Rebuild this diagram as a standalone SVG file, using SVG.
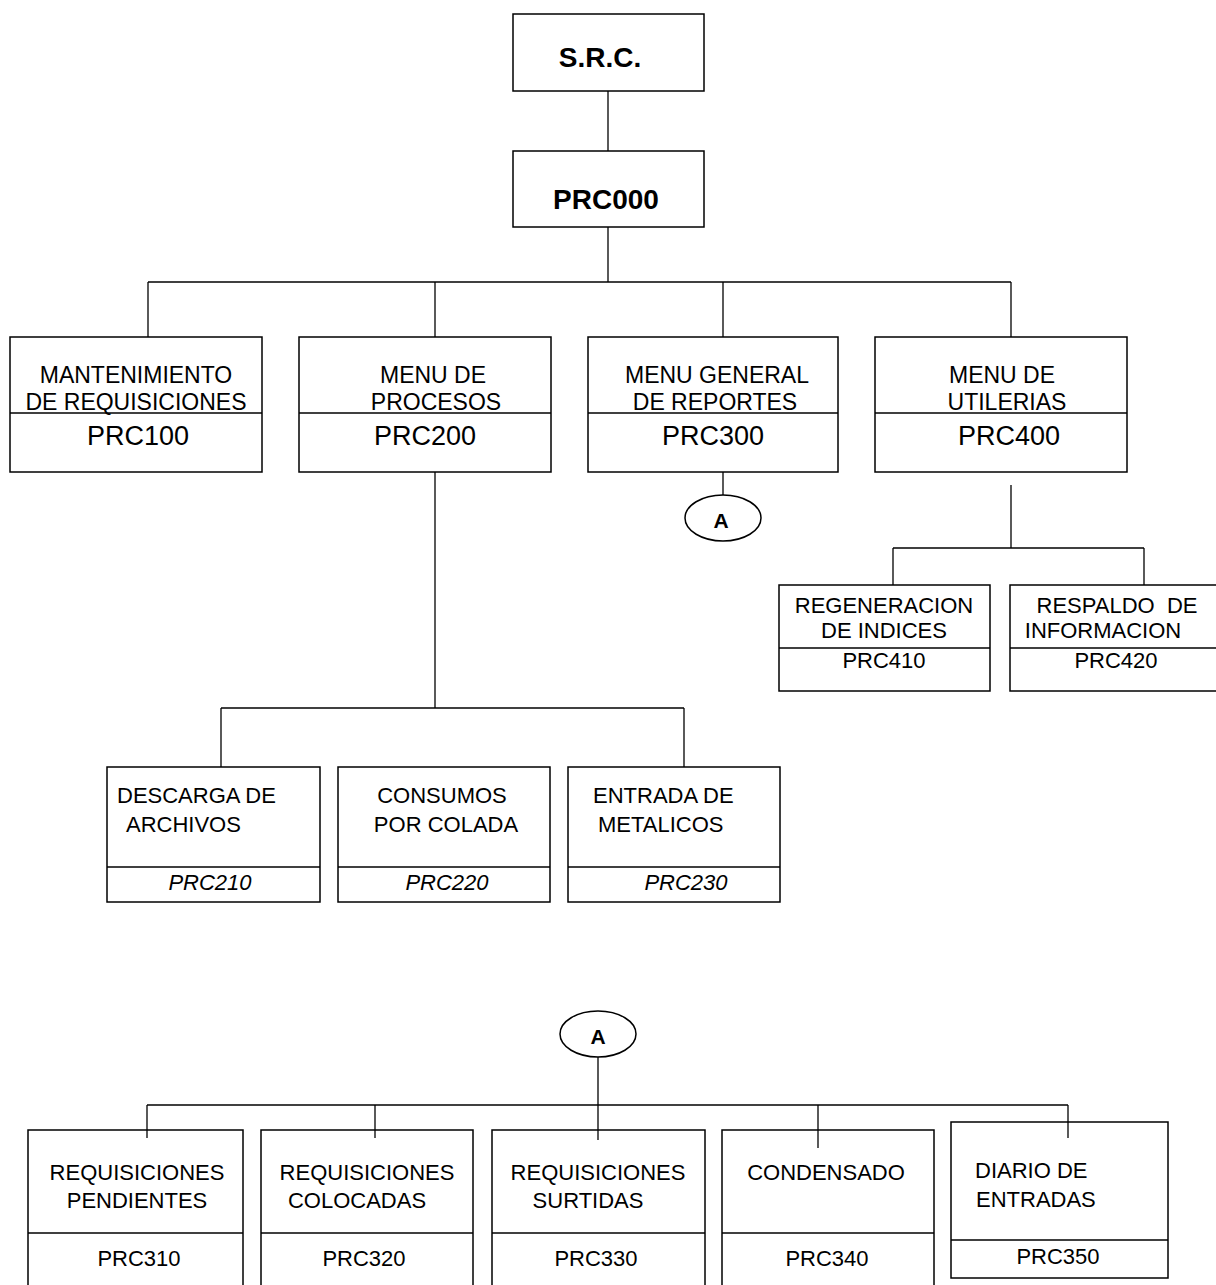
<svg xmlns="http://www.w3.org/2000/svg" width="1216" height="1285" viewBox="0 0 1216 1285">
<style>
.box{fill:#fff;stroke:#000;stroke-width:1.5}
.div{stroke:#000;stroke-width:1.3}
.conn line{stroke:#000;stroke-width:1.3}
text{font-family:"Liberation Sans",Arial,sans-serif;fill:#000;text-anchor:middle}
.big{font-size:28px;font-weight:bold}
.l2{font-size:23px}
.c2{font-size:27px}
.s{font-size:22px}
.it{font-style:italic}
.lt{text-anchor:start}
</style>
<rect width="1216" height="1285" fill="#fff"/>
<g id="src"><rect class="box" x="513" y="14" width="191" height="77"/><text class="big" x="600" y="67">S.R.C.</text></g>
<g id="prc000"><rect class="box" x="513" y="151" width="191" height="76"/><text class="big" x="606" y="209">PRC000</text></g>
<g id="prc100"><rect class="box" x="10" y="337" width="252" height="135"/><line class="div" x1="10" y1="413" x2="262" y2="413"/>
<text class="l2" x="136" y="383">MANTENIMIENTO</text><text class="l2" x="136" y="410">DE REQUISICIONES</text><text class="c2" x="138" y="445">PRC100</text></g>
<g id="prc200"><rect class="box" x="299" y="337" width="252" height="135"/><line class="div" x1="299" y1="413" x2="551" y2="413"/>
<text class="l2" x="433" y="383">MENU DE</text><text class="l2" x="436" y="410">PROCESOS</text><text class="c2" x="425" y="445">PRC200</text></g>
<g id="prc300"><rect class="box" x="588" y="337" width="250" height="135"/><line class="div" x1="588" y1="413" x2="838" y2="413"/>
<text class="l2" x="717" y="383">MENU GENERAL</text><text class="l2" x="715" y="410">DE REPORTES</text><text class="c2" x="713" y="445">PRC300</text></g>
<g id="prc400"><rect class="box" x="875" y="337" width="252" height="135"/><line class="div" x1="875" y1="413" x2="1127" y2="413"/>
<text class="l2" x="1002" y="383">MENU DE</text><text class="l2" x="1007" y="410">UTILERIAS</text><text class="c2" x="1009" y="445">PRC400</text></g>
<g id="connA1"><ellipse class="box" cx="723" cy="518" rx="38" ry="23"/><text x="721" y="528" style="font-size:21px;font-weight:bold">A</text></g>
<g id="prc410"><rect class="box" x="779" y="585" width="211" height="106"/><line class="div" x1="779" y1="648" x2="990" y2="648"/>
<text class="s" x="884" y="613">REGENERACION</text><text class="s" x="884" y="638">DE INDICES</text><text class="s" x="884" y="668">PRC410</text></g>
<g id="prc420"><rect class="box" x="1010" y="585" width="210" height="106"/><line class="div" x1="1010" y1="648" x2="1216" y2="648"/>
<text class="s" x="1117" y="613" xml:space="preserve">RESPALDO  DE</text><text class="s" x="1103" y="638">INFORMACION</text><text class="s" x="1116" y="668">PRC420</text></g>
<g id="prc210"><rect class="box" x="107" y="767" width="213" height="135"/><line class="div" x1="107" y1="867" x2="320" y2="867"/>
<text class="s lt" x="117" y="803">DESCARGA DE</text><text class="s lt" x="126" y="832">ARCHIVOS</text><text class="s it" x="210" y="890">PRC210</text></g>
<g id="prc220"><rect class="box" x="338" y="767" width="212" height="135"/><line class="div" x1="338" y1="867" x2="550" y2="867"/>
<text class="s" x="442" y="803">CONSUMOS</text><text class="s" x="446" y="832">POR COLADA</text><text class="s it" x="447" y="890">PRC220</text></g>
<g id="prc230"><rect class="box" x="568" y="767" width="212" height="135"/><line class="div" x1="568" y1="867" x2="780" y2="867"/>
<text class="s lt" x="593" y="803">ENTRADA DE</text><text class="s lt" x="598" y="832">METALICOS</text><text class="s it" x="686" y="890">PRC230</text></g>
<g id="connA2"><ellipse class="box" cx="598" cy="1034" rx="38" ry="23"/><text x="598" y="1044" style="font-size:21px;font-weight:bold">A</text></g>
<g id="prc310"><rect class="box" x="28" y="1130" width="215" height="160"/><line class="div" x1="28" y1="1233" x2="243" y2="1233"/>
<text class="s" x="137" y="1180">REQUISICIONES</text><text class="s" x="137" y="1208">PENDIENTES</text><text class="s" x="139" y="1266">PRC310</text></g>
<g id="prc320"><rect class="box" x="261" y="1130" width="212" height="160"/><line class="div" x1="261" y1="1233" x2="473" y2="1233"/>
<text class="s" x="367" y="1180">REQUISICIONES</text><text class="s" x="357" y="1208">COLOCADAS</text><text class="s" x="364" y="1266">PRC320</text></g>
<g id="prc330"><rect class="box" x="492" y="1130" width="213" height="160"/><line class="div" x1="492" y1="1233" x2="705" y2="1233"/>
<text class="s" x="598" y="1180">REQUISICIONES</text><text class="s" x="588" y="1208">SURTIDAS</text><text class="s" x="596" y="1266">PRC330</text></g>
<g id="prc340"><rect class="box" x="722" y="1130" width="212" height="160"/><line class="div" x1="722" y1="1233" x2="934" y2="1233"/>
<text class="s" x="826" y="1180">CONDENSADO</text><text class="s" x="827" y="1266">PRC340</text></g>
<g id="prc350"><rect class="box" x="951" y="1122" width="217" height="156"/><line class="div" x1="951" y1="1240" x2="1168" y2="1240"/>
<text class="s lt" x="975" y="1178">DIARIO DE</text><text class="s lt" x="976" y="1207">ENTRADAS</text><text class="s" x="1058" y="1264">PRC350</text></g>
<g id="connectors" class="conn">
<line x1="608" y1="91" x2="608" y2="151"/>
<line x1="608" y1="227" x2="608" y2="282"/>
<line x1="148" y1="282" x2="1011" y2="282"/>
<line x1="148" y1="282" x2="148" y2="337"/>
<line x1="435" y1="282" x2="435" y2="337"/>
<line x1="723" y1="282" x2="723" y2="337"/>
<line x1="1011" y1="282" x2="1011" y2="337"/>
<line x1="723" y1="472" x2="723" y2="495"/>
<line x1="1011" y1="485" x2="1011" y2="548"/>
<line x1="893" y1="548" x2="1144" y2="548"/>
<line x1="893" y1="548" x2="893" y2="585"/>
<line x1="1144" y1="548" x2="1144" y2="585"/>
<line x1="435" y1="472" x2="435" y2="708"/>
<line x1="221" y1="708" x2="684" y2="708"/>
<line x1="221" y1="708" x2="221" y2="767"/>
<line x1="684" y1="708" x2="684" y2="767"/>
<line x1="598" y1="1057" x2="598" y2="1140"/>
<line x1="147" y1="1105" x2="1068" y2="1105"/>
<line x1="147" y1="1105" x2="147" y2="1138"/>
<line x1="375" y1="1105" x2="375" y2="1138"/>
<line x1="818" y1="1105" x2="818" y2="1148"/>
<line x1="1068" y1="1105" x2="1068" y2="1138"/>
</g>
</svg>
